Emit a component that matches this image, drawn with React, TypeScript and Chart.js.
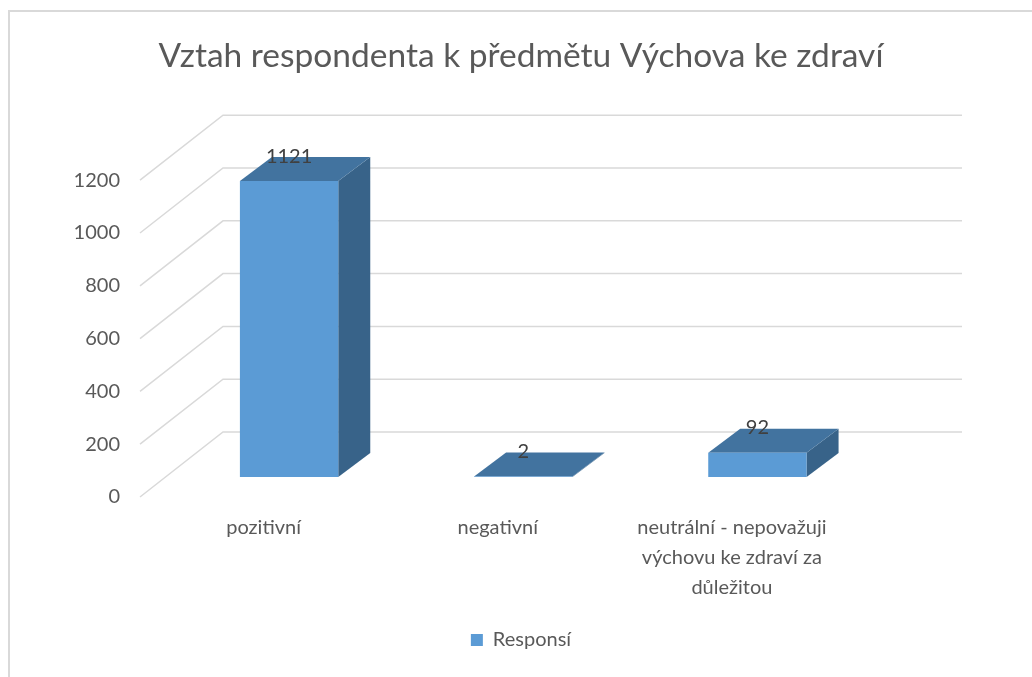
import React, { useEffect, useRef } from "react";
import { Chart, registerables } from "chart.js";

Chart.register(...registerables);

const titleText = "Vztah respondenta k předmětu Výchova ke zdraví";
const seriesName = "Responsí";
const categories: (string | string[])[] = [
  "pozitivní",
  "negativní",
  ["neutrální - nepovažuji", "výchovu ke zdraví za", "důležitou"],
];
const values = [1121, 2, 92];
const yMin = 0;
const yMax = 1200;
const yStep = 200;

const FONT = "Lato, 'Open Sans', sans-serif";
const TEXT = "#595959";
const FRONT = "#5B9BD5";
const TOP = "#42739F";
const SIDE = "#386389";
const GRID = "#d9d9d9";

// 3D geometry (pixels)
const WALL_DX = 83;
const WALL_DY = -65;
const BAR_OFF_X = 25.5;
const BAR_OFF_Y = -20;
const BAR_DEPTH_X = 32;
const BAR_DEPTH_Y = -24;
const GRID_LEFT_OFFSET = -6.5;
const GRID_BACK_RIGHT = 952;

const threeD = {
  id: "threeD",
  beforeDatasetsDraw(chart: any) {
    const { ctx, chartArea, scales } = chart;
    const y = scales.y;
    ctx.save();
    ctx.strokeStyle = GRID;
    ctx.lineWidth = 1.5;
    for (let v = yMin; v <= yMax; v += yStep) {
      const yf = y.getPixelForValue(v);
      const x0 = chartArea.left + GRID_LEFT_OFFSET;
      ctx.beginPath();
      ctx.moveTo(x0, yf);
      ctx.lineTo(x0 + WALL_DX, yf + WALL_DY);
      ctx.lineTo(GRID_BACK_RIGHT, yf + WALL_DY);
      ctx.stroke();
    }
    ctx.restore();

    const meta = chart.getDatasetMeta(0);
    ctx.save();
    ctx.translate(BAR_OFF_X, BAR_OFF_Y);
    meta.data.forEach((bar: any) => {
      const { x, y: top, base, width } = bar.getProps(["x", "y", "base", "width"], true);
      const x1 = x - width / 2;
      const x2 = x + width / 2;
      ctx.fillStyle = SIDE;
      ctx.beginPath();
      ctx.moveTo(x2, top);
      ctx.lineTo(x2 + BAR_DEPTH_X, top + BAR_DEPTH_Y);
      ctx.lineTo(x2 + BAR_DEPTH_X, base + BAR_DEPTH_Y);
      ctx.lineTo(x2, base);
      ctx.closePath();
      ctx.fill();
      ctx.fillStyle = TOP;
      ctx.beginPath();
      ctx.moveTo(x1, top);
      ctx.lineTo(x2, top);
      ctx.lineTo(x2 + BAR_DEPTH_X, top + BAR_DEPTH_Y);
      ctx.lineTo(x1 + BAR_DEPTH_X, top + BAR_DEPTH_Y);
      ctx.closePath();
      ctx.fill();
    });
    // translation kept for the native front faces; restored after datasets
  },
  afterDatasetsDraw(chart: any) {
    const { ctx } = chart;
    ctx.restore();
    const meta = chart.getDatasetMeta(0);
    const data = chart.data.datasets[0].data;
    ctx.save();
    ctx.fillStyle = "#404040";
    ctx.font = `20px ${FONT}`;
    ctx.textAlign = "center";
    ctx.textBaseline = "middle";
    meta.data.forEach((bar: any, i: number) => {
      const { x, y: top } = bar.getProps(["x", "y"], true);
      ctx.fillText(String(data[i]), x + BAR_OFF_X, top + BAR_OFF_Y + BAR_DEPTH_Y - 1);
    });
    ctx.restore();
  },
};

export default function App() {
  const ref = useRef<HTMLCanvasElement | null>(null);
  useEffect(() => {
    if (!ref.current) return;
    const chart = new Chart(ref.current, {
      type: "bar",
      data: {
        labels: categories,
        datasets: [
          {
            label: seriesName,
            data: values,
            backgroundColor: FRONT,
            borderWidth: 0,
            categoryPercentage: 1,
            barPercentage: 0.42,
          },
        ],
      },
      options: {
        responsive: false,
        animation: false,
        events: [],
        layout: { padding: { left: 0, right: 0, top: 0, bottom: 17 } },
        plugins: {
          tooltip: { enabled: false },
          title: {
            display: true,
            text: titleText,
            color: TEXT,
            font: { family: FONT, size: 33.5, weight: "normal" },
            padding: { top: 24, bottom: 104 },
          },
          legend: {
            display: true,
            position: "bottom",
            labels: {
              color: TEXT,
              font: { family: FONT, size: 20 },
              boxWidth: 12,
              boxHeight: 12,
              padding: 10,
            },
          },
        },
        scales: {
          x: {
            grid: { display: false, drawTicks: false },
            border: { display: false },
            ticks: {
              color: TEXT,
              font: { family: FONT, size: 20, lineHeight: 1.5 },
              padding: 16,
              maxRotation: 0,
              autoSkip: false,
            },
            afterFit: (s: any) => {
              s.height = 123;
            },
          },
          y: {
            min: yMin,
            max: yMax,
            grid: { display: false, drawTicks: false },
            border: { display: false },
            ticks: {
              stepSize: yStep,
              color: TEXT,
              font: { family: FONT, size: 20 },
              padding: 26.5,
              callback: (v: any) => String(v),
            },
            afterFit: (s: any) => {
              s.width = 136.5;
            },
          },
          yRight: {
            position: "right",
            display: true,
            grid: { display: false, drawTicks: false },
            border: { display: false },
            ticks: { display: false },
            afterFit: (s: any) => {
              s.width = 183;
            },
          },
        },
      },
      plugins: [threeD],
    });
    return () => chart.destroy();
  }, []);
  return (
    <div
      style={{
        position: "absolute",
        left: 8,
        top: 10,
        width: 1024,
        height: 667,
        boxSizing: "border-box",
        borderTop: `2px solid ${GRID}`,
        borderLeft: `2px solid ${GRID}`,
        overflow: "hidden",
        background: "#fff",
      }}
    >
      <canvas ref={ref} width={1022} height={665} style={{ display: "block" }} />
    </div>
  );
}
